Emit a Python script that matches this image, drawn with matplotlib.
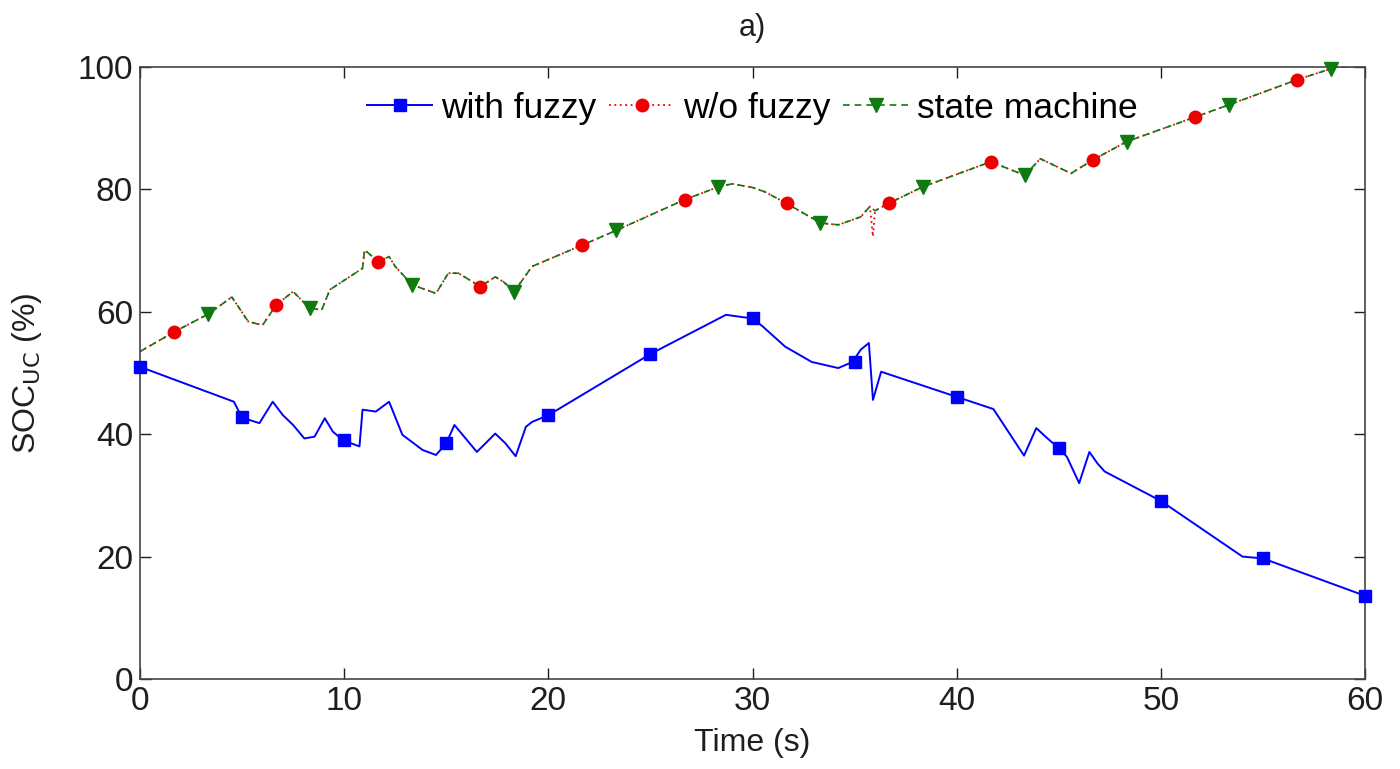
import matplotlib
matplotlib.use("Agg")
import matplotlib.pyplot as plt
from matplotlib.lines import Line2D

plt.rcParams["font.family"] = ["Liberation Sans", "DejaVu Sans"]

# ---- with fuzzy (blue) ----
fuzzy_t = [0, 4.6, 5.0, 5.85, 6.5, 7.0, 7.5, 8.05, 8.55, 9.05, 9.45, 9.95,
           10.75, 10.9, 11.55, 12.2, 12.85, 13.85, 14.5, 15.0, 15.4, 15.95,
           16.5, 17.4, 17.9, 18.4, 18.9, 19.2, 20.0, 25.0, 28.7, 30.0, 30.5,
           31.6, 32.9, 34.2, 34.9, 35.3, 35.7, 35.9, 36.3, 40.0, 41.8, 43.3,
           43.9, 44.35, 45.0, 45.4, 46.0, 46.5, 46.9, 47.25, 50.0, 54.0, 55.0,
           60.0]
fuzzy_soc = [51.0, 45.3, 42.7, 41.8, 45.3, 43.1, 41.5, 39.3, 39.6, 42.6, 40.4,
             39.0, 38.0, 44.0, 43.7, 45.3, 39.9, 37.4, 36.6, 38.5, 41.5, 39.3,
             37.1, 40.1, 38.5, 36.4, 41.2, 42.0, 43.1, 53.1, 59.5, 58.9, 57.6,
             54.3, 51.8, 50.8, 51.8, 53.8, 54.9, 45.6, 50.2, 46.1, 44.1, 36.5,
             41.0, 39.6, 37.7, 36.3, 32.0, 37.1, 35.2, 33.9, 29.1, 20.0, 19.7,
             13.6]
fuzzy_mark_t = [0, 5, 10, 15, 20, 25, 30, 35, 40, 45, 50, 55, 60]
fuzzy_mark_soc = [51.0, 42.8, 39.0, 38.5, 43.1, 53.1, 58.9, 51.8, 46.1, 37.7,
                  29.1, 19.7, 13.6]

# ---- w/o fuzzy (red) ----
nofuzzy_t = [0, 1.67, 3.33, 4.5, 5.3, 6.0, 6.67, 7.5, 8.3, 8.9, 9.3, 10.9,
             11.0, 11.67, 12.2, 12.5, 13.33, 14.5, 15.1, 15.6, 16.67, 17.4,
             17.8, 18.33, 19.2, 21.67, 23.33, 26.67, 28.33, 29.0, 30.0, 30.6,
             31.67, 33.33, 34.2, 35.3, 35.75, 35.9, 36.0, 36.67, 38.33, 41.67,
             43.33, 44.1, 45.6, 46.67, 48.33, 51.67, 53.33, 56.67, 58.33, 58.6,
             60.0]
nofuzzy_soc = [53.5, 56.7, 59.6, 62.4, 58.4, 57.8, 61.1, 63.3, 60.6, 60.3,
               63.6, 67.1, 70.1, 68.2, 69.0, 67.4, 64.4, 63.0, 66.3, 66.3,
               64.1, 65.7, 64.9, 63.3, 67.4, 70.9, 73.3, 78.3, 80.4, 80.9,
               80.3, 79.6, 77.7, 74.5, 74.2, 75.5, 77.2, 72.3, 76.5, 77.7,
               80.4, 84.5, 82.3, 85.0, 82.6, 84.8, 87.8, 91.8, 93.8, 97.9,
               99.7, 100.0, 100.0]
nofuzzy_mark_t = [1.67, 6.67, 11.67, 16.67, 21.67, 26.67, 31.67, 36.67, 41.67,
                  46.67, 51.67, 56.67]
nofuzzy_mark_soc = [56.7, 61.1, 68.2, 64.1, 70.9, 78.3, 77.7, 77.7, 84.5, 84.8,
                    91.8, 97.9]

# ---- state machine (green) ----
state_t = [0, 1.67, 3.33, 4.5, 5.3, 6.0, 6.67, 7.5, 8.3, 8.9, 9.3, 10.9,
           11.0, 11.67, 12.2, 12.5, 13.33, 14.5, 15.1, 15.6, 16.67, 17.4,
           17.8, 18.33, 19.2, 21.67, 23.33, 26.67, 28.33, 29.0, 30.0, 30.6,
           31.67, 33.33, 34.2, 35.3, 35.75, 36.0, 36.67, 38.33, 41.67, 43.33,
           44.1, 45.6, 46.67, 48.33, 51.67, 53.33, 56.67, 58.33, 58.6, 60.0]
state_soc = [53.5, 56.7, 59.6, 62.4, 58.4, 57.8, 61.1, 63.3, 60.6, 60.3,
             63.6, 67.1, 70.1, 68.2, 69.0, 67.4, 64.4, 63.0, 66.3, 66.3,
             64.1, 65.7, 64.9, 63.3, 67.4, 70.9, 73.3, 78.3, 80.4, 80.9,
             80.3, 79.6, 77.7, 74.5, 74.2, 75.5, 77.2, 76.5, 77.7, 80.4,
             84.5, 82.3, 85.0, 82.6, 84.8, 87.8, 91.8, 93.8, 97.9, 99.7,
             100.0, 100.0]
state_mark_t = [3.33, 8.33, 13.33, 18.33, 23.33, 28.33, 33.33, 38.33, 43.33,
                48.33, 53.33, 58.33]
state_mark_soc = [59.6, 60.6, 64.4, 63.3, 73.3, 80.4, 74.5, 80.4, 82.3, 87.8,
                  93.8, 99.7]

BLUE = "#0000ff"
RED = "#ee0000"
GREEN = "#0f7a0f"
TEXT = "#1e1e1e"

fig = plt.figure(figsize=(14, 7.69), dpi=100)
ax = fig.add_axes([0.1, 0.117, 0.875, 0.796])

ax.plot(fuzzy_t, fuzzy_soc, color=BLUE, lw=1.4)
ax.plot(nofuzzy_t, nofuzzy_soc, color=RED, lw=1.3, ls=(0, (1, 2)))
ax.plot(state_t, state_soc, color=GREEN, lw=1.2, ls=(0, (4, 3)))
ax.plot(fuzzy_mark_t, fuzzy_mark_soc, ls="none", marker="s", ms=9,
        color=BLUE, clip_on=False, zorder=4)
ax.plot(nofuzzy_mark_t, nofuzzy_mark_soc, ls="none", marker="o", ms=9,
        color=RED, zorder=4)
ax.plot(state_mark_t, state_mark_soc, ls="none", marker="v", ms=10,
        color=GREEN, clip_on=False, zorder=4)

handles = [
    Line2D([], [], color=BLUE, lw=1.4, marker="s", ms=9),
    Line2D([], [], color=RED, lw=1.3, ls=(0, (1, 2)), marker="o", ms=9),
    Line2D([], [], color=GREEN, lw=1.2, ls=(0, (4, 3)), marker="v", ms=10),
]
ax.legend(handles, ["with fuzzy", "w/o fuzzy", "state machine"],
          loc="upper center", bbox_to_anchor=(0.5, 1.0), ncol=3,
          frameon=False, fontsize=25.5, handlelength=1.85, handletextpad=0.25,
          columnspacing=0.35, borderaxespad=0.3)

ax.set_xlim(0, 60)
ax.set_ylim(0, 100)
ax.set_xticks(range(0, 61, 10))
ax.set_yticks(range(0, 101, 20))
ax.tick_params(direction="in", length=8, width=1, top=True, right=True,
               labelsize=24, colors=TEXT, pad=5)
for sp in ax.spines.values():
    sp.set_color("#444444")
    sp.set_linewidth(1.2)

ax.set_xlabel("Time (s)", fontsize=23, color=TEXT, labelpad=8)
ax.set_ylabel(r"SOC$_{\mathrm{UC}}$ (%)", fontsize=23, color=TEXT,
              labelpad=24)
ax.set_title("a)", fontsize=22, color=TEXT, pad=22)

fig.savefig("out.png", dpi=100)
